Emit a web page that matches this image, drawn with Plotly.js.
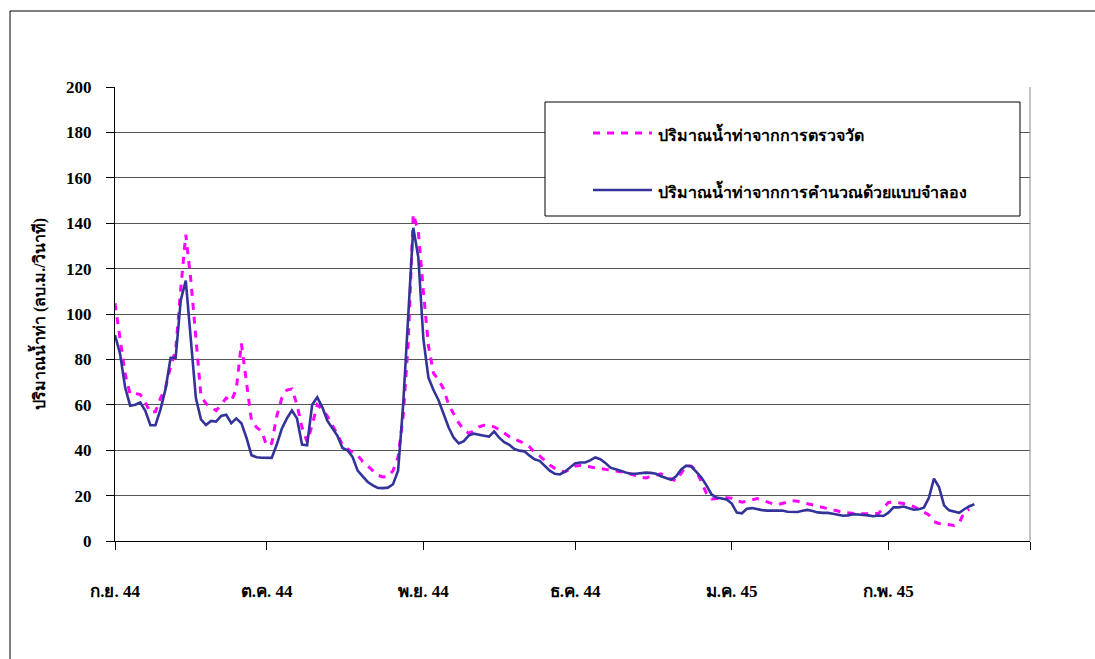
<!DOCTYPE html>
<html>
<head>
<meta charset="utf-8">
<script src="https://cdn.plot.ly/plotly-3.0.1.min.js"></script>
<style>
html,body{margin:0;padding:0;background:#fff;}
#chart{width:1095px;height:659px;}
</style>
</head>
<body>
<div id="chart"></div>
<script>
// Month start positions (days since 1 Sep 2001) and labels
const monthStartDays = [0, 30, 61, 91, 122, 153, 181];
const monthLabels = ["ก.ย. 44", "ต.ค. 44", "พ.ย. 44", "ธ.ค. 44", "ม.ค. 45", "ก.พ. 45", ""];

const seriesNames = ["ปริมาณน้ำท่าจากการตรวจวัด", "ปริมาณน้ำท่าจากการคำนวณด้วยแบบจำลอง"];
const yTitle = "ปริมาณน้ำท่า (ลบ.ม./วินาที)";

// Observed daily discharge (from 1 Sep 2001)
const observed = [
104.7,89,73.6,64.7,65,64.5,61,56.5,57,63,
67.5,77,84,111,135,115,88,64,60.5,59,
57.5,60,63,61.5,67,87,70,53,50,48.4,
42,43,55,63,66.5,67,60,50,43.7,51,
60,58,55,51,47,42.2,40.5,39,37.8,35,
33,31,29,28.2,28.5,31,37,55,87,144,
136.5,110,86,74,71,67,60,56,52,49,
47.5,48.5,50.3,51,50.5,50.3,49,47.5,46,45,
44,43,41.5,39,37.5,35.5,33.5,32,30.7,30.5,
31.5,33,33.3,33,32.6,32.5,32,31.5,31,30.8,
30.5,30.3,29.5,28.8,28,27.8,28.5,29.2,29.6,28.5,
27.3,26.5,30,33.2,33,31,26,21,18.5,18.5,
18.8,19.1,18.8,17.8,17.1,17.5,18.2,18.7,18,17.2,
16.5,16,16.5,17.2,17.7,17.5,17,16.4,16,15.5,
14.8,14.3,13.8,13.2,12.6,12.3,12,12,12,12.1,
12,12.1,14.5,17,17.2,17,16.5,16,15.2,14,
12.8,11.5,8.5,7.7,7.5,7.2,6.8,8,12.8,14
];

// Simulated daily discharge (from 1 Sep 2001)
const simulated = [
90.7,82.5,67.7,59.6,60,61,57.3,51,51,58,
67,80.7,80.7,106,114.7,88,63,53.6,51.1,52.9,
52.6,55.1,55.6,51.9,54,51.9,45.5,37.8,36.9,36.7,
36.6,36.6,42.5,49.5,54,57.5,54,42.5,42.2,60,
63.3,59,53,49.5,46.3,41,40,37,31,28.5,
26,24.5,23.4,23.3,23.5,25,31,60,100,138,
125,89,72,66.5,62,56,50,45.5,43,44,
46.5,47.3,47,46.4,46,48.3,45.5,43.5,42.4,40.5,
39.8,39.5,37.6,36,35.3,33,31,29.6,29.3,30.5,
32.5,34.2,34.6,34.6,35.5,36.8,36,34.4,32.3,31.8,
31,30.2,29.6,29.6,30,30.1,30,29.6,28.5,27.8,
27,28.5,31.5,33.2,32.8,30.5,28,24.5,20.5,19.1,
18.8,18.3,16.5,12.5,12.2,14.2,14.5,14,13.6,13.4,
13.4,13.4,13.4,12.9,12.8,12.8,13.3,13.7,13.2,12.6,
12.4,12.4,12,11.5,11.1,11.3,11.8,11.7,11.6,11.3,
10.9,11.2,11,12.5,14.8,14.8,15.2,14.5,13.8,14,
14.7,19,27.5,23.8,15.7,13.5,12.8,12.4,14,15.3,
16.2
];

const obsDays = observed.map((_, i) => i);
const simDays = simulated.map((_, i) => i);

const FONT = "serif";
const MAGENTA = "#FF00FF";
const NAVY = "#333399";

const traces = [
  {x: obsDays, y: observed, type: "scatter", mode: "lines", name: seriesNames[0],
   line: {color: MAGENTA, width: 3, dash: "7px,7px"}, hoverinfo: "skip", showlegend: false},
  {x: simDays, y: simulated, type: "scatter", mode: "lines", name: seriesNames[1],
   line: {color: NAVY, width: 2.6}, hoverinfo: "skip", showlegend: false}
];

// plot area geometry in pixels for paper conversions
const L = 115, R = 1030, T = 87, B = 541;
const px = v => (v - L) / (R - L);
const py = v => (B - v) / (B - T);

const layout = {
  width: 1095, height: 659,
  margin: {l: L, r: 1095 - R, t: T, b: 659 - B},
  paper_bgcolor: "#fff", plot_bgcolor: "#fff",
  showlegend: false,
  font: {family: FONT, color: "#000"},
  xaxis: {
    range: [0, 181], tickvals: monthStartDays, ticktext: monthLabels,
    showgrid: false, zeroline: false, showline: true, linecolor: "#000", linewidth: 1,
    ticks: "outside", ticklen: 8, tickcolor: "#000",
    ticklabelstandoff: 27,
    tickfont: {family: FONT, size: 17, color: "#000", weight: "bold"}
  },
  yaxis: {
    range: [0, 200], dtick: 20, tick0: 0,
    showgrid: true, gridcolor: "#555", gridwidth: 1,
    zeroline: false, showline: true, linecolor: "#000", linewidth: 1,
    ticks: "outside", ticklen: 8, tickcolor: "#000",
    ticklabelstandoff: 11,
    tickfont: {family: FONT, size: 17, color: "#000", weight: "bold"},
    title: {text: yTitle, standoff: 16, font: {family: FONT, size: 16, color: "#000", weight: "bold"}}
  },
  shapes: [
    // outer frame (top and left)
    {type: "line", xref: "paper", yref: "paper", x0: px(10), x1: px(1095), y0: py(11), y1: py(11), line: {color: "#000", width: 1}},
    {type: "line", xref: "paper", yref: "paper", x0: px(10), x1: px(10), y0: py(11), y1: py(659), line: {color: "#000", width: 1}},
    // right border of plot area
    {type: "line", xref: "paper", yref: "paper", x0: 1, x1: 1, y0: 0, y1: 1, line: {color: "#888", width: 1}},
    // legend box
    {type: "rect", xref: "paper", yref: "paper", x0: px(545), x1: px(1020), y0: py(216), y1: py(102),
     fillcolor: "#fff", line: {color: "#000", width: 1}},
    {type: "line", xref: "paper", yref: "paper", x0: px(593), x1: px(652), y0: py(133), y1: py(133),
     line: {color: MAGENTA, width: 3, dash: "7px,7px"}},
    {type: "line", xref: "paper", yref: "paper", x0: px(593), x1: px(652), y0: py(190), y1: py(190),
     line: {color: NAVY, width: 2.6}}
  ],
  annotations: [
    {xref: "paper", yref: "paper", x: px(656), y: py(133), xanchor: "left", yanchor: "middle", showarrow: false,
     text: seriesNames[0], font: {family: FONT, size: 16, color: "#000", weight: "bold"}},
    {xref: "paper", yref: "paper", x: px(656), y: py(190), xanchor: "left", yanchor: "middle", showarrow: false,
     text: seriesNames[1], font: {family: FONT, size: 16, color: "#000", weight: "bold"}}
  ]
};

Plotly.newPlot("chart", traces, layout, {staticPlot: true, displayModeBar: false});
</script>
</body>
</html>
